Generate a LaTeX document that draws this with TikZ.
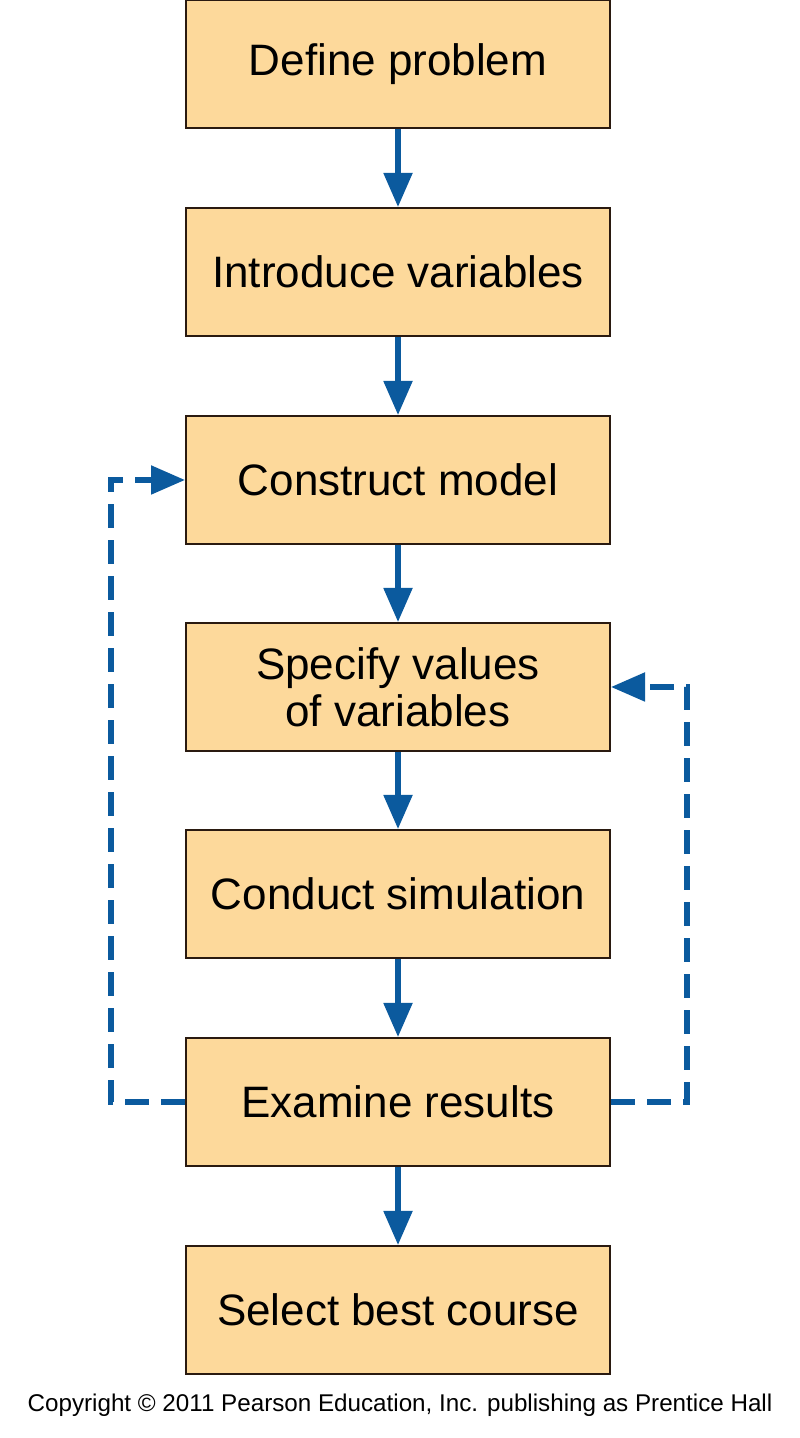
\documentclass[tikz,border=0pt]{standalone}
\usepackage{fontspec}
\setmainfont{Liberation Sans}
\usetikzlibrary{calc}
\usetikzlibrary{arrows.meta}
\definecolor{color_box_bg}{HTML}{FDD99B}
\definecolor{color_box_border}{HTML}{2A1A10}
\definecolor{color_arrow}{HTML}{0B5A9E}
\definecolor{color_copyright}{HTML}{000000}
\def\boxwidth{212pt}
\def\boxheight{64pt}
\def\boxfontsize{\fontsize{22}{23.5}\selectfont}
\def\arrowtip{Triangle[length=17pt,width=14pt]}
\tikzset{
    stepbox/.style={draw=color_box_border, fill=color_box_bg, line width=1pt,
        minimum width=\boxwidth, minimum height=\boxheight, align=center,
        inner sep=0pt, font=\boxfontsize},
    flowline/.style={color_arrow, line width=2.6pt, -{\arrowtip}},
    loopline/.style={color_arrow, line width=2.6pt, dash pattern=on 12pt off 6pt, -{\arrowtip}},
}

\begin{document}
\begin{tikzpicture}[x=0.5pt,y=0.5pt]
        \useasboundingbox (0,0) rectangle (799,1438);
        \fill[white] (0,0) rectangle (799,1438);
        % the steps
        \node[stepbox] (define) at (398,1374) {Define problem};
        \node[stepbox] (variables) at (398,1166) {Introduce variables};
        \node[stepbox] (model) at (398,958) {Construct model};
        \node[stepbox] (values) at (398,751) {Specify values\\of variables};
        \node[stepbox] (simulation) at (398,544) {Conduct simulation};
        \node[stepbox] (results) at (398,336) {Examine results};
        \node[stepbox] (course) at (398,128) {Select best course};
        
        % straight arrows
        \draw[flowline] (define) -- (variables);
        \draw[flowline] (variables) -- (model);
        \draw[flowline] (model) -- (values);
        \draw[flowline] (values) -- (simulation);
        \draw[flowline] (simulation) -- (results);
        \draw[flowline] (results) -- (course);
        
        % feedback loops
        \coordinate (leftturn) at ($(results.west)+(-74,0)$);
        \coordinate (rightturn) at ($(results.east)+(76,0)$);
        \draw[loopline] (results.west) -- (leftturn) |- (model.west);
        \draw[loopline] (results.east) -- (rightturn) |- (values.east);
        
        % copyright line
        \node[color_copyright, font=\fontsize{12.1}{14}\selectfont] (copyright) at (400,33) {Copyright \textcopyright{} 2011 Pearson Education, Inc. publishing as Prentice Hall};
    \end{tikzpicture}
\end{document}
